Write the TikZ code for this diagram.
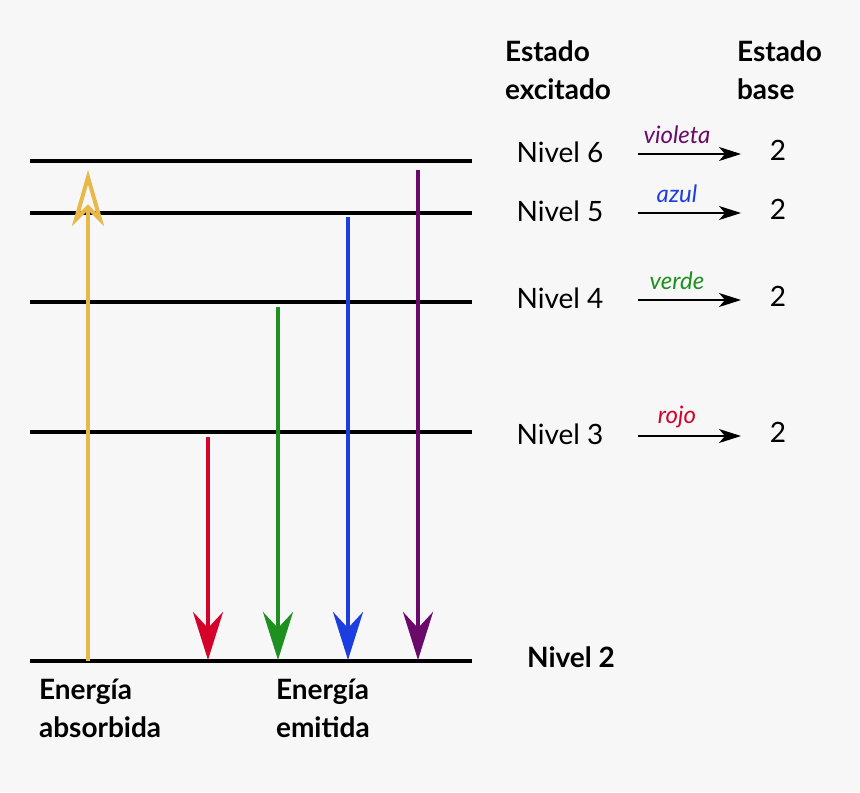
\documentclass[tikz,border=0pt]{standalone}
\usepackage{fontspec}
\setmainfont{Lato}
\usetikzlibrary{arrows.meta}
\definecolor{bg}{HTML}{F7F7F7}
\definecolor{cy}{HTML}{E8B94A}
\definecolor{cr}{HTML}{D4022A}
\definecolor{cg}{HTML}{1E9020}
\definecolor{cb}{HTML}{1C3EE0}
\definecolor{cp}{HTML}{6A0A6A}
\begin{document}
\begin{tikzpicture}[x=0.5pt,y=-0.5pt,
  lvl/.style={line width=2pt},
  em/.style={line width=2pt,-{Stealth[length=24pt,width=15pt,inset=8pt]}},
  txt/.style={font=\fontsize{14}{16}\selectfont},
  lab/.style={font=\fontsize{12}{13}\selectfont\itshape},
  hd/.style={font=\fontsize{14}{19}\selectfont\bfseries,align=left,anchor=north west},
  sm/.style={line width=0.6pt,-{Stealth[length=11pt,width=7pt,inset=3pt]}}]
\fill[bg] (0,0) rectangle (860,792);
\useasboundingbox (0,0) rectangle (860,792);
\foreach \n/\y in {6/161,5/213,4/302,3/432,2/661}{
  \coordinate (La\n) at (30,\y); \coordinate (Lb\n) at (472,\y);
  \draw[lvl] (La\n) -- (Lb\n);}
\coordinate (ya) at (88,661); \coordinate (yb) at (88,170);
\draw[line width=2pt,cy,-{Stealth[open,length=28pt,width=16pt,inset=8pt,line width=2pt]}] (ya) -- (yb);
\foreach \c/\x/\y in {cr/208/437,cg/278/307,cb/348/217,cp/418/170}{
  \coordinate (s\c) at (\x,\y); \coordinate (e\c) at (\x,660);
  \draw[em,\c] (s\c) -- (e\c);}
\node[hd] (h1) at (498,34) {Estado\\excitado};
\node[hd] (h2) at (730,34) {Estado\\base};
\foreach \n/\y/\c/\w in {6/152/cp/violeta,5/211/cb/azul,4/298/cg/verde,3/434/cr/rojo}{
  \node[txt] (N\n) at (560,\y) {Nivel \n};
  \coordinate (a\n) at (638,\y+2); \coordinate (b\n) at (741,\y+2);
  \draw[sm] (a\n) -- (b\n);
  \node[lab,text=\c] (w\n) at (677,\y-17) {\w};
  \node[txt] (t\n) at (778,\y-2) {2};}
\node[txt,font=\fontsize{14}{16}\selectfont\bfseries] (N2) at (571,657) {Nivel 2};
\node[hd] (ea) at (32,672) {Energía\\absorbida};
\node[hd] (ee) at (269,672) {Energía\\emitida};
\end{tikzpicture}
\end{document}
